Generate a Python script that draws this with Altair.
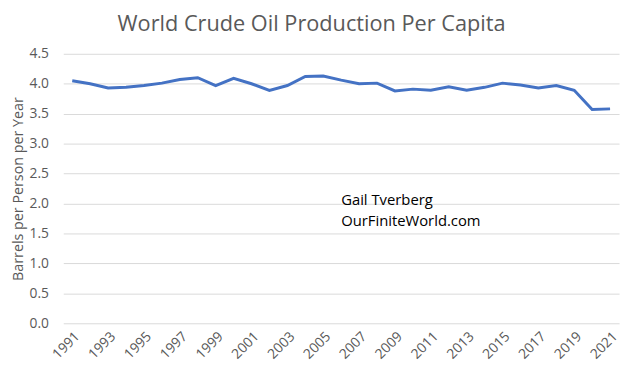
import altair as alt
import pandas as pd

years = [str(y) for y in range(1991, 2022)]
values = [4.05, 4.00, 3.93, 3.94, 3.97, 4.01, 4.07, 4.10, 3.97, 4.09,
          4.00, 3.89, 3.97, 4.12, 4.13, 4.06, 4.00, 4.01, 3.88, 3.91,
          3.89, 3.95, 3.89, 3.94, 4.01, 3.98, 3.93, 3.97, 3.89, 3.57, 3.58]
tick_labels = [str(y) for y in range(1991, 2022, 2)]
y_ticks = [0.0, 0.5, 1.0, 1.5, 2.0, 2.5, 3.0, 3.5, 4.0, 4.5]
notes = ["Gail Tverberg", "OurFiniteWorld.com"]
note_years = ["2006", "2006"]
note_vals = [2.06, 1.70]

df = pd.DataFrame({"year": years, "value": values})
notes_df = pd.DataFrame({"year": note_years, "value": note_vals, "text": notes})

FONT = "Open Sans"
GREY = "#595959"

x = alt.X("year:N", sort=years, title=None,
          scale=alt.Scale(paddingInner=0, paddingOuter=0.5),
          axis=alt.Axis(values=tick_labels, labelAngle=-45, labelFontSize=14,
                        labelColor=GREY, labelFont=FONT, domain=False, ticks=False,
                        labelPadding=6, grid=False, labelOverlap=False))
y = alt.Y("value:Q", scale=alt.Scale(domain=[0, 4.5], nice=False),
          title="Barrels per Person per Year",
          axis=alt.Axis(values=y_ticks, format=".1f", labelOverlap=False,
                        labelFontSize=14, labelColor=GREY, labelFont=FONT,
                        titleFont=FONT, titleFontSize=14.5, titleFontWeight="normal",
                        titleColor=GREY, titlePadding=4,
                        domain=False, ticks=False, labelPadding=15,
                        grid=True, gridColor="#d9d9d9", gridWidth=1))

line = alt.Chart(df).mark_line(color="#4472C4", strokeWidth=3).encode(x=x, y=y)
text = alt.Chart(notes_df).mark_text(align="left", baseline="middle", fontSize=15,
                                     font=FONT, color="#000000").encode(
    x=x, y=y, text="text:N")

chart = (line + text).properties(
    width=563, height=273,
    title=alt.TitleParams("World Crude Oil Production Per Capita", fontSize=22,
                          font=FONT, fontWeight="normal", color=GREY,
                          anchor="middle", offset=11, dx=-30),
    autosize=alt.AutoSizeParams(type="none"),
    padding={"left": 56, "top": 44, "right": 3, "bottom": 50},
).configure_view(stroke=None)

chart.save("out.html", embed_options={"renderer": "svg", "actions": False})
